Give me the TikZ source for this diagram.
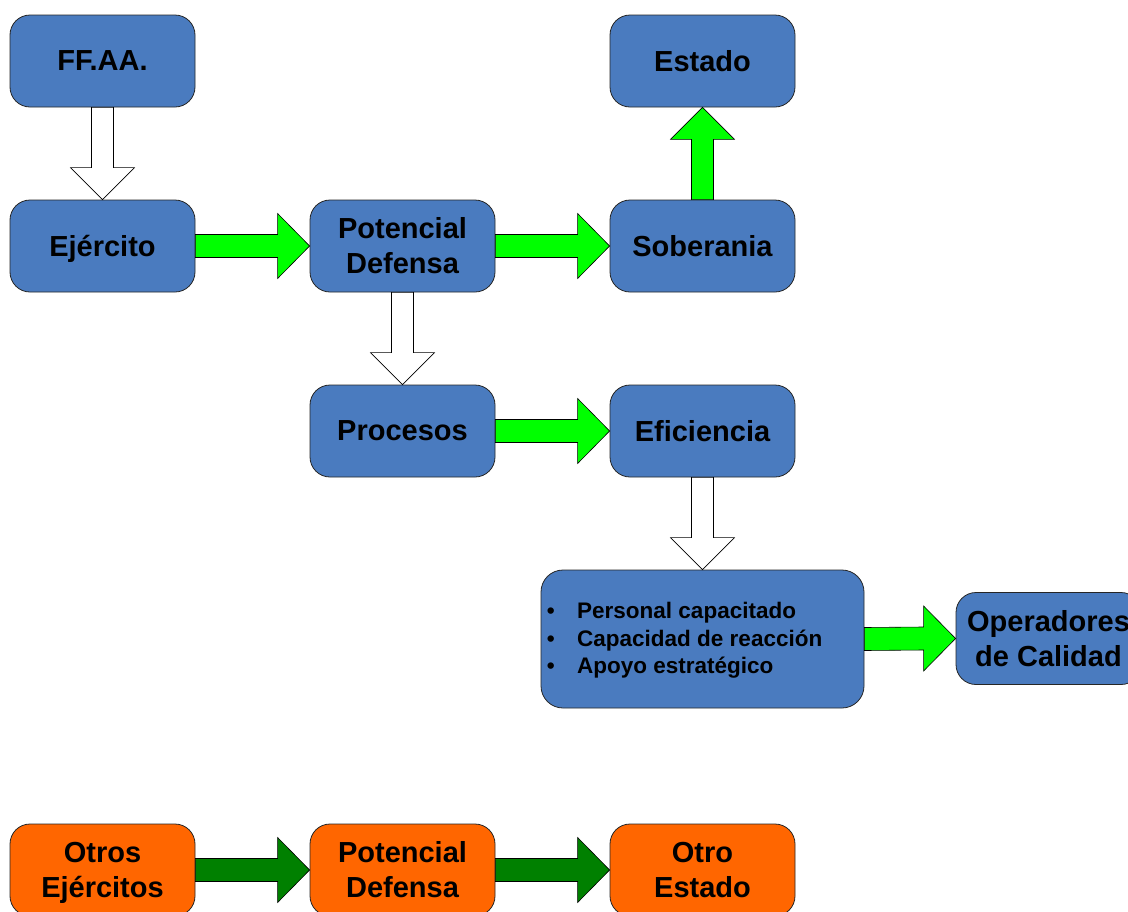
\documentclass[tikz,border=0pt]{standalone}
\usepackage{fontspec}
\setmainfont{Liberation Sans}
\usetikzlibrary{calc}
\definecolor{boxblue}{HTML}{4A7BBF}
\definecolor{boxorange}{HTML}{FF6600}
\definecolor{flowgreen}{HTML}{00FF00}
\definecolor{darkflow}{HTML}{008000}
\tikzset{
  box/.style={draw=black!85, line width=0.8pt, fill=boxblue, rounded corners=20pt,
    minimum width=185pt, minimum height=92pt, inner sep=0pt, align=center,
    font=\fontsize{29}{35}\selectfont\bfseries},
  obox/.style={box, fill=boxorange},
  blockarrow/.style={draw=black, line width=0.6pt, line join=miter},
}
% horizontal block arrow from the east side of #1 to the west side of #2
\newcommand{\harrow}[3]{%
  \draw[blockarrow, fill=#3]
    ($(#1.east)+(0,-11.5)$) -- ($(#2.west)+(-32,-11.5)$) -- ($(#2.west)+(-32,-32.5)$)
    -- (#2.west) -- ($(#2.west)+(-32,32.5)$) -- ($(#2.west)+(-32,11.5)$)
    -- ($(#1.east)+(0,11.5)$) -- cycle;}
% vertical block arrow from the south side of #1 down to the north side of #2
\newcommand{\varrowdown}[3]{%
  \draw[blockarrow, fill=#3]
    ($(#1.south)+(-11,0)$) -- ($(#2.north)+(-11,-32)$) -- ($(#2.north)+(-32,-32)$)
    -- (#2.north) -- ($(#2.north)+(32,-32)$) -- ($(#2.north)+(11,-32)$)
    -- ($(#1.south)+(11,0)$) -- cycle;}
% vertical block arrow from the north side of #1 up to the south side of #2
\newcommand{\varrowup}[3]{%
  \draw[blockarrow, fill=#3]
    ($(#1.north)+(-11,0)$) -- ($(#2.south)+(-11,32)$) -- ($(#2.south)+(-32,32)$)
    -- (#2.south) -- ($(#2.south)+(32,32)$) -- ($(#2.south)+(11,32)$)
    -- ($(#1.north)+(11,0)$) -- cycle;}
\begin{document}
\begin{tikzpicture}[x=1pt, y=-1pt]
  \useasboundingbox (0,0) rectangle (1128,911);
  \clip (0,0) rectangle (1128,911);

  % upper chain
  \node[box] (ffaa) at (102.5,61) {FF.AA.};
  \node[box] (estado) at (702.5,61) {Estado};
  \node[box] (ejercito) at (102.5,246) {};
  \node[font=\fontsize{29}{35}\selectfont\bfseries, inner sep=0pt, yshift=-3pt]
    (ejercitotext) at (ejercito.center) {Ejército};
  \node[box] (potencial) at (402.5,246) {Potencial\\Defensa};
  \node[box] (soberania) at (702.5,246) {Soberania};
  \node[box] (procesos) at (402.5,431) {Procesos};
  \node[box] (eficiencia) at (702.5,431) {Eficiencia};
  \node[box, minimum width=323pt, minimum height=138pt, rounded corners=22pt] (lista) at (702.5,639) {};
  \node[anchor=west, inner sep=0pt, align=left, font=\fontsize{22.5}{27.5}\selectfont\bfseries]
    (items) at (543,640.5)
    {\makebox[34pt][l]{\,•}Personal capacitado\\
     \makebox[34pt][l]{\,•}Capacidad de reacción\\
     \makebox[34pt][l]{\,•}Apoyo estratégico};
  \node[box] (operadores) at (1048.5,638.5) {Operadores\\de Calidad};

  % lower chain
  \node[obox] (otros) at (102.5,870) {};
  \node[font=\fontsize{29}{35}\selectfont\bfseries, inner sep=0pt, align=center, yshift=-2.5pt]
    (otrostext) at (otros.center) {Otros\\Ejércitos};
  \node[obox] (potencial2) at (402.5,870) {Potencial\\Defensa};
  \node[obox] (otroestado) at (702.5,870) {Otro\\Estado};

  % connectors
  \varrowdown{ffaa}{ejercito}{white}
  \harrow{ejercito}{potencial}{flowgreen}
  \harrow{potencial}{soberania}{flowgreen}
  \varrowup{soberania}{estado}{flowgreen}
  \varrowdown{potencial}{procesos}{white}
  \harrow{procesos}{eficiencia}{flowgreen}
  \varrowdown{eficiencia}{lista}{white}
  \harrow{lista}{operadores}{flowgreen}
  \harrow{otros}{potencial2}{darkflow}
  \harrow{potencial2}{otroestado}{darkflow}
\end{tikzpicture}
\end{document}
